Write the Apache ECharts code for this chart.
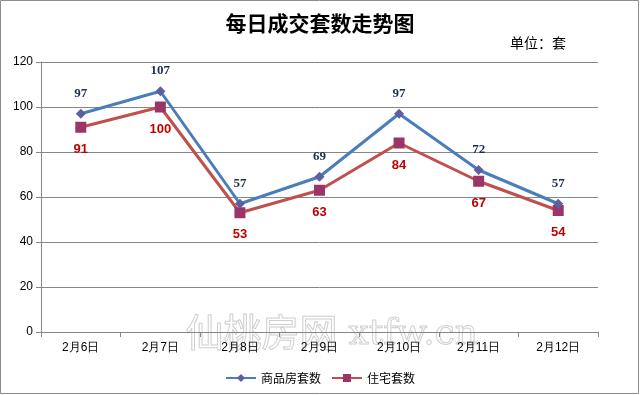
<!DOCTYPE html>
<html><head><meta charset="utf-8">
<script src="https://cdn.jsdelivr.net/npm/echarts@6/dist/echarts.min.js"></script>
<style>html,body{margin:0;padding:0;background:#fff}#c{width:640px;height:395px}</style>
</head><body><div id="c"></div>
<script>
const categories = ['2月6日','2月7日','2月8日','2月9日','2月10日','2月11日','2月12日'];
const commercial = [97,107,57,69,97,72,57];
const residential = [91,100,53,63,84,67,54];
const yTicks = {min:0,max:120,interval:20};

const chart = echarts.init(document.getElementById('c'));
chart.setOption({
  animation:false,
  backgroundColor:'#fff',
  title:{text:'每日成交套数走势图',left:'center',top:8,
    textStyle:{fontFamily:'Noto Sans CJK SC',fontSize:21,fontWeight:'bold',color:'#000'}},
  graphic:[
    {type:'rect',shape:{x:0.5,y:0.5,width:638,height:393},style:{fill:'none',stroke:'#8c8c8c',lineWidth:1},z:-1},
    {type:'text',left:510,top:36,style:{text:'单位：套',font:'14px "Noto Sans CJK SC"',fill:'#000'}},
    {type:'text',left:185,top:312,style:{text:'仙桃房网',font:'38px "Noto Sans CJK SC"',fill:'none',stroke:'#cfcfcf',lineWidth:1},z:0},
    {type:'text',left:348,top:316,style:{text:'xtfw.cn',font:'36px "DejaVu Serif"',fill:'none',stroke:'#cfcfcf',lineWidth:1},z:0}
  ],
  legend:{bottom:6,left:'center',itemWidth:30,itemHeight:10,itemGap:10,
    textStyle:{fontFamily:'Noto Sans CJK SC',fontSize:12,color:'#000'},
    data:['商品房套数','住宅套数']},
  grid:{left:41,right:42,top:62,bottom:63},
  xAxis:{type:'category',data:categories,boundaryGap:true,
    axisLine:{lineStyle:{color:'#868686'}},
    axisTick:{show:true,alignWithLabel:false,length:5,lineStyle:{color:'#868686'}},
    axisLabel:{fontFamily:'Liberation Sans',fontSize:12,color:'#000',margin:10}},
  yAxis:{type:'value',min:yTicks.min,max:yTicks.max,interval:yTicks.interval,
    axisLine:{show:true,lineStyle:{color:'#868686'}},
    axisTick:{show:true,length:5,lineStyle:{color:'#868686'}},
    splitLine:{lineStyle:{color:'#868686'}},
    axisLabel:{fontFamily:'Liberation Sans',fontSize:12,color:'#000',margin:8}},
  series:[
    {name:'商品房套数',type:'line',data:commercial,symbol:'diamond',symbolSize:10,
      lineStyle:{color:'#4a7ebb',width:3},itemStyle:{color:'#5f5fa0'},
      label:{show:true,position:'top',distance:9,fontFamily:'Liberation Serif',fontWeight:'bold',fontSize:13,color:'#1f2d50'},z:3},
    {name:'住宅套数',type:'line',data:residential,symbol:'rect',symbolSize:11,
      lineStyle:{color:'#c0504d',width:3},itemStyle:{color:'#9b3468'},
      label:{show:true,position:'bottom',distance:10,fontFamily:'Liberation Sans',fontWeight:'bold',fontSize:13,color:'#c00000'},z:2}
  ]
});
</script></body></html>
